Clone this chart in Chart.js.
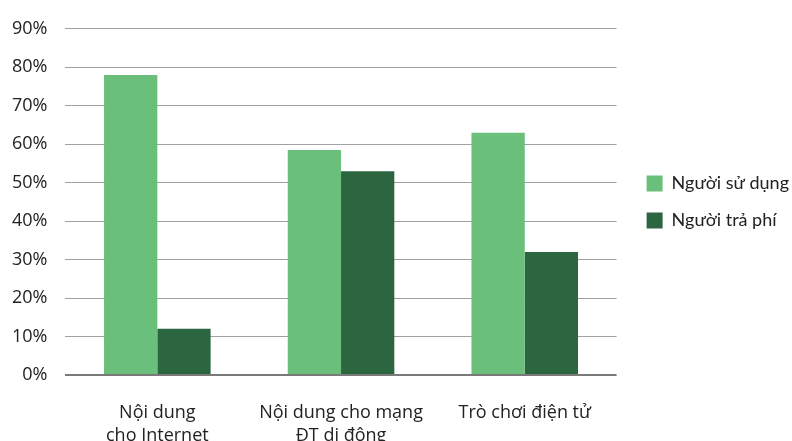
<!DOCTYPE html>
<html>
<head>
<meta charset="utf-8">
<script src="https://cdn.jsdelivr.net/npm/chart.js@4/dist/chart.umd.min.js"></script>
<style>
  html, body { margin: 0; padding: 0; background: #fff; }
  #wrap { width: 792px; height: 441px; }
</style>
</head>
<body>
<div id="wrap"><canvas id="chart" width="792" height="441"></canvas></div>
<script>
const categories = [["Nội dung", "cho Internet"], ["Nội dung cho mạng", "ĐT di đông"], ["Trò chơi điện tử"]];
const users = [78, 58.5, 63];
const payers = [12, 53, 32];
const seriesNames = ["Người sử dụng", "Người trả phí"];
const yTicks = [0, 10, 20, 30, 40, 50, 60, 70, 80, 90];

// leave a small gap between the plot area and the legend
const legendGap = {
  id: "legendGap",
  afterLayout(chart) {
    chart.legend.left += 11;
    chart.legend.right += 11;
  }
};

new Chart(document.getElementById("chart"), {
  type: "bar",
  data: {
    labels: categories,
    datasets: [
      { label: seriesNames[0], data: users, backgroundColor: "#6abf7b" },
      { label: seriesNames[1], data: payers, backgroundColor: "#2b6640" }
    ]
  },
  plugins: [legendGap],
  options: {
    responsive: false,
    animation: false,
    layout: { padding: { top: 11, right: 4, left: -6, bottom: -25 } },
    datasets: { bar: { categoryPercentage: 0.58, barPercentage: 1 } },
    plugins: {
      tooltip: { enabled: false },
      legend: {
        position: "right",
        fullSize: false,
        labels: {
          font: { family: "Lato", size: 18 },
          color: "#222",
          boxWidth: 16,
          boxHeight: 16,
          padding: 19
        }
      }
    },
    scales: {
      x: {
        grid: { display: false },
        border: { display: false },
        ticks: {
          font: { family: "Open Sans", size: 18, lineHeight: 1.25 },
          color: "#222",
          padding: 19,
          maxRotation: 0
        }
      },
      y: {
        min: 0,
        max: 90,
        afterBuildTicks: axis => { axis.ticks = yTicks.map(v => ({ value: v })); },
        border: { display: false },
        grid: {
          drawTicks: false,
          color: ctx => ctx.tick.value === 0 ? "#7a7a7a" : "#a0a0a0",
          lineWidth: ctx => ctx.tick.value === 0 ? 2 : 1
        },
        ticks: {
          font: { family: "Open Sans", size: 18 },
          color: "#222",
          padding: 18,
          callback: v => v + "%"
        }
      }
    }
  }
});
</script>
</body>
</html>
